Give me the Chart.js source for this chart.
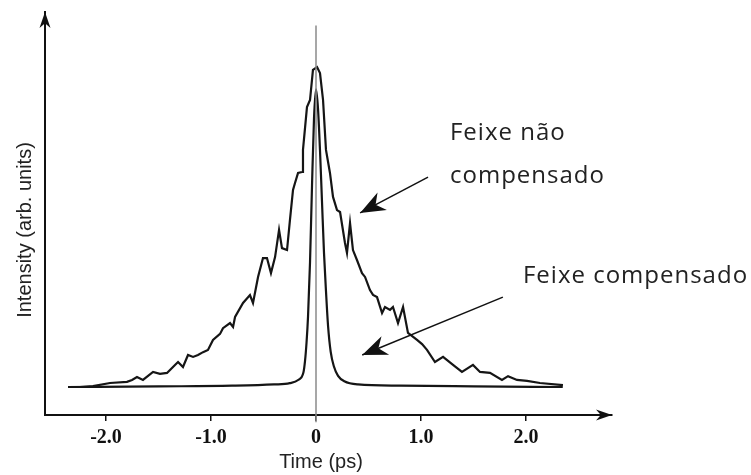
<!DOCTYPE html>
<html>
<head>
<meta charset="utf-8">
<script src="https://cdn.jsdelivr.net/npm/chart.js@4.4.1/dist/chart.umd.min.js"></script>
<style>
  html, body { margin: 0; padding: 0; background: #fff; }
  #wrap { width: 751px; height: 475px; }
</style>
</head>
<body>
<div id="wrap"><canvas id="pulseChart"></canvas></div>
<script>
// autocorrelation traces, time in ps, intensity normalised to the broad peak
const broadTime = [-2.362, -2.248, -2.124, -1.962, -1.8, -1.752, -1.705, -1.648, -1.552, -1.486, -1.419, -1.343,
  -1.314, -1.267, -1.219, -1.171, -1.124, -1.076, -1.029, -0.981, -0.914, -0.886, -0.819, -0.79, -0.771, -0.695,
  -0.629, -0.6, -0.552, -0.505, -0.467, -0.429, -0.39, -0.352, -0.324, -0.276, -0.248, -0.219, -0.2, -0.171,
  -0.133, -0.124, -0.086, -0.057, -0.029, 0.01, 0.038, 0.067, 0.095, 0.133, 0.162, 0.2, 0.229, 0.276, 0.295,
  0.324, 0.352, 0.39, 0.438, 0.467, 0.514, 0.543, 0.581, 0.629, 0.657, 0.705, 0.733, 0.781, 0.829, 0.876,
  0.962, 1.01, 1.057, 1.133, 1.21, 1.305, 1.39, 1.495, 1.562, 1.657, 1.771, 1.829, 1.914, 2.01, 2.133, 2.352];
const broadIntensity = [0, 0, 0.003, 0.0125, 0.016, 0.022, 0.031, 0.022, 0.047, 0.041, 0.044, 0.069,
  0.078, 0.0625, 0.1, 0.094, 0.1, 0.109, 0.116, 0.147, 0.166, 0.184, 0.2, 0.1875, 0.219, 0.2625,
  0.2875, 0.2625, 0.344, 0.403, 0.403, 0.356, 0.406, 0.491, 0.434, 0.428, 0.522, 0.616, 0.6375, 0.669,
  0.672, 0.741, 0.875, 0.897, 0.991, 1.0, 0.981, 0.897, 0.741, 0.669, 0.594, 0.553, 0.547, 0.45, 0.419,
  0.5125, 0.428, 0.397, 0.356, 0.344, 0.303, 0.288, 0.281, 0.231, 0.25, 0.241, 0.25, 0.2, 0.25, 0.169,
  0.147, 0.134, 0.116, 0.078, 0.094, 0.069, 0.047, 0.069, 0.047, 0.044, 0.022, 0.034, 0.022, 0.019, 0.0125, 0.006];

const narrowTime = [-2.36, -1.5, -0.8, -0.4, -0.25, -0.17, -0.12, -0.105, -0.09, -0.076, -0.057, -0.038, -0.019, 0,
  0.019, 0.038, 0.057, 0.076, 0.095, 0.115, 0.14, 0.17, 0.21, 0.27, 0.4, 0.8, 1.5, 2.35];
const narrowIntensity = [0, 0.002, 0.004, 0.008, 0.012, 0.022, 0.045, 0.08, 0.14, 0.22, 0.39, 0.63, 0.84, 0.93,
  0.87, 0.74, 0.58, 0.42, 0.3, 0.19, 0.11, 0.065, 0.035, 0.018, 0.008, 0.004, 0.002, 0];

const timeTicks = [-2, -1, 0, 1, 2];

// callouts: text anchor and arrow (tail -> tip) in data units
const labelUncomp = ['Feixe não', 'compensado'];
const labelComp = ['Feixe compensado'];
const arrowUncomp = [1.067, 0.656, 0.42, 0.544];
const arrowComp = [1.78, 0.281, 0.44, 0.10];
const textUncomp = [1.276, 0.772, 0.6375];
const textComp = [1.971, 0.325];

const toPoints = (xs, ys) => xs.map((x, i) => ({ x: x, y: ys[i] }));

function drawHead(ctx, x1, y1, x2, y2, len, half) {
    const a = Math.atan2(y2 - y1, x2 - x1);
    const c = Math.cos(a), s = Math.sin(a);
    ctx.beginPath();
    ctx.moveTo(x2, y2);
    ctx.lineTo(x2 - len * c + half * s, y2 - len * s - half * c);
    ctx.lineTo(x2 - len * 0.7 * c, y2 - len * 0.7 * s);
    ctx.lineTo(x2 - len * c - half * s, y2 - len * s + half * c);
    ctx.closePath();
    ctx.fill();
}

function drawArrow(ctx, x1, y1, x2, y2) {
    ctx.beginPath();
    ctx.moveTo(x1, y1);
    ctx.lineTo(x2, y2);
    ctx.stroke();
    drawHead(ctx, x1, y1, x2, y2, 25, 10);
}

const decorations = {
    id: 'decorations',
    afterDraw(chart) {
        const ctx = chart.ctx;
        const xs = chart.scales.x, ys = chart.scales.y;
        const area = chart.chartArea;
        ctx.save();
        ctx.fillStyle = '#111';
        ctx.strokeStyle = '#111';

        // axis arrowheads
        drawHead(ctx, area.left, area.bottom, area.left, area.top, 16, 5.5);
        drawHead(ctx, area.left, area.bottom, area.right, area.bottom, 16, 5.5);

        // axis titles
        ctx.font = '20px "Liberation Sans", Arial, sans-serif';
        ctx.textAlign = 'center';
        ctx.textBaseline = 'middle';
        ctx.fillStyle = '#222';
        ctx.fillText('Time (ps)', 321, 462);
        ctx.save();
        ctx.translate(25, 230);
        ctx.rotate(-Math.PI / 2);
        ctx.fillText('Intensity (arb. units)', 0, 0);
        ctx.restore();

        // callout arrows
        ctx.fillStyle = '#111';
        ctx.lineWidth = 1.5;
        drawArrow(ctx, xs.getPixelForValue(arrowUncomp[0]), ys.getPixelForValue(arrowUncomp[1]),
            xs.getPixelForValue(arrowUncomp[2]), ys.getPixelForValue(arrowUncomp[3]));
        drawArrow(ctx, xs.getPixelForValue(arrowComp[0]), ys.getPixelForValue(arrowComp[1]),
            xs.getPixelForValue(arrowComp[2]), ys.getPixelForValue(arrowComp[3]));

        // callout text
        ctx.font = '24px "Open Sans", sans-serif';
        ctx.letterSpacing = '1px';
        ctx.textAlign = 'left';
        ctx.textBaseline = 'alphabetic';
        ctx.fillStyle = '#222';
        const ux = xs.getPixelForValue(textUncomp[0]);
        ctx.fillText(labelUncomp[0], ux, ys.getPixelForValue(textUncomp[1]));
        ctx.fillText(labelUncomp[1], ux, ys.getPixelForValue(textUncomp[2]));
        ctx.fillText(labelComp[0], xs.getPixelForValue(textComp[0]), ys.getPixelForValue(textComp[1]));
        ctx.restore();
    }
};

new Chart(document.getElementById('pulseChart'), {
    type: 'line',
    data: {
        datasets: [{
            // zero-delay marker
            data: [{ x: 0, y: -0.11 }, { x: 0, y: 1.13 }],
            borderColor: '#8a8a8a',
            borderWidth: 1.5,
            pointRadius: 0,
            clip: false
        }, {
            label: 'Feixe não compensado',
            data: toPoints(broadTime, broadIntensity),
            borderColor: '#151515',
            borderWidth: 2.2,
            pointRadius: 0,
            tension: 0
        }, {
            label: 'Feixe compensado',
            data: toPoints(narrowTime, narrowIntensity),
            borderColor: '#151515',
            borderWidth: 2.2,
            pointRadius: 0,
            cubicInterpolationMode: 'monotone'
        }]
    },
    options: {
        responsive: true,
        maintainAspectRatio: false,
        animation: false,
        layout: { padding: { left: 0, top: 12, right: 139, bottom: 0 } },
        plugins: {
            legend: { display: false },
            tooltip: { enabled: false }
        },
        scales: {
            x: {
                type: 'linear',
                min: -2.581,
                max: 2.819,
                afterBuildTicks: s => { s.ticks = timeTicks.map(v => ({ value: v })); },
                afterFit: s => { s.height = 60; },
                grid: { display: true, drawOnChartArea: false, tickLength: 6, color: '#111', lineWidth: 1.5 },
                border: { display: true, color: '#111', width: 2 },
                ticks: {
                    padding: 5,
                    color: '#111',
                    font: { family: '"Liberation Serif", "Times New Roman", serif', size: 20, weight: 'bold' },
                    callback: v => v === 0 ? '0' : v.toFixed(1)
                }
            },
            y: {
                type: 'linear',
                min: -0.0875,
                max: 1.172,
                afterFit: s => { s.width = 45; },
                grid: { display: false },
                border: { display: true, color: '#111', width: 2 },
                ticks: { display: false }
            }
        }
    },
    plugins: [decorations]
});
</script>
</body>
</html>
